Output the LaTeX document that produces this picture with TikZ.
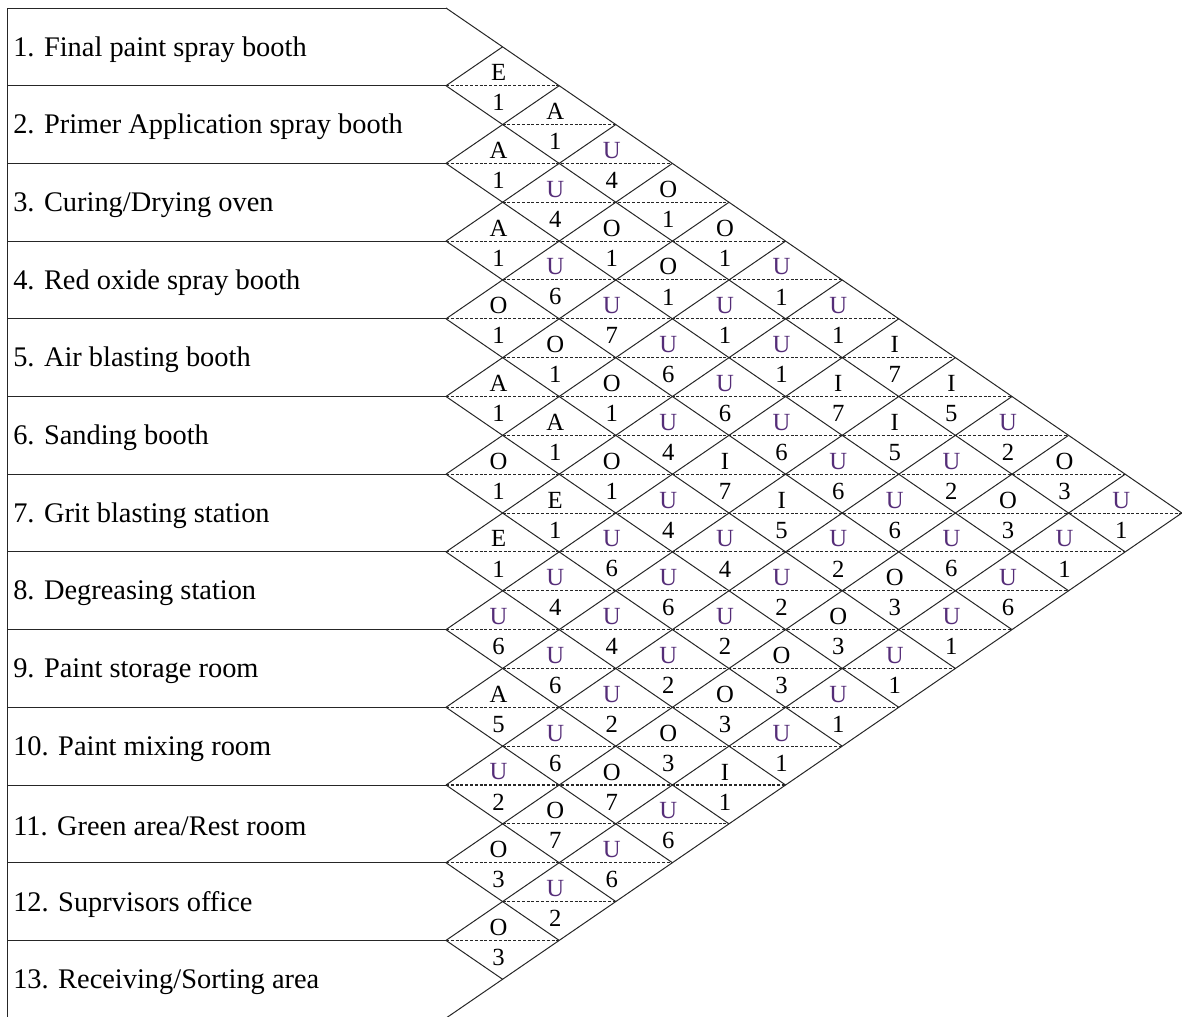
\documentclass[tikz,border=0pt]{standalone}
\usepackage{fontspec}
\setmainfont{Liberation Serif}
\definecolor{upurple}{RGB}{85,45,120}
\begin{document}
\begin{tikzpicture}[x=0.75pt,y=-0.75pt,
  gridline/.style={line width=0.75pt, black!85},
  midline/.style={line width=0.8pt, black!85, dash pattern=on 2.2pt off 1.4pt},
  deptlabel/.style={anchor=west, inner sep=0pt, font=\fontsize{21.3}{24}\selectfont},
  rel/.style={inner sep=0pt, font=\fontsize{18.5}{21}\selectfont}]
\useasboundingbox (0,0) rectangle (1182,1017);
% left table frame
\draw[gridline] (446,8) -- (7,8) -- (7,1017);
\foreach \k in {1,...,12}{
  \draw[gridline] (7,{8+\k*77.7}) -- (446,{8+\k*77.7});
}
% department labels
\foreach \i/\t in {1/{1. Final paint spray booth},2/{2. Primer Application spray booth},3/{3. Curing/Drying oven},4/{4. Red oxide spray booth},5/{5. Air blasting booth},6/{6. Sanding booth},7/{7. Grit blasting station},8/{8. Degreasing station},9/{9. Paint storage room},10/{10. Paint mixing room},11/{11. Green area/Rest room},12/{12. Suprvisors office},13/{13. Receiving/Sorting area}}{
  \node[deptlabel] (dept\i) at (13,{8+(\i-0.5)*77.7+2.5}) {\t};
}
% diagonal grid
\foreach \k in {0,...,12}{
  \draw[gridline] (446,{8+\k*77.7}) -- ({446+(13-\k)*56.6},{8+\k*77.7+(13-\k)*38.85});
}
\foreach \k in {1,...,13}{
  \draw[gridline] (446,{8+\k*77.7}) -- ({446+\k*56.6},{8+\k*77.7-\k*38.85});
}
% dashed mid lines
\foreach \m in {2,...,24}{
  \pgfmathsetmacro\xl{446+mod(\m,2)*56.6}
  \pgfmathsetmacro\xr{446+min(\m,26-\m)*56.6}
  \draw[midline] (\xl,{8+\m*38.85}) -- (\xr,{8+\m*38.85});
}
% relationship values
\def\uu{U}
\foreach \ii/\jj/\lt/\nm in {
 1/2/E/1, 1/3/A/1, 1/4/U/4, 1/5/O/1, 1/6/O/1, 1/7/U/1, 1/8/U/1, 1/9/I/7, 1/10/I/5, 1/11/U/2, 1/12/O/3, 1/13/U/1,
 2/3/A/1, 2/4/U/4, 2/5/O/1, 2/6/O/1, 2/7/U/1, 2/8/U/1, 2/9/I/7, 2/10/I/5, 2/11/U/2, 2/12/O/3, 2/13/U/1,
 3/4/A/1, 3/5/U/6, 3/6/U/7, 3/7/U/6, 3/8/U/6, 3/9/U/6, 3/10/U/6, 3/11/U/6, 3/12/U/6, 3/13/U/6,
 4/5/O/1, 4/6/O/1, 4/7/O/1, 4/8/U/4, 4/9/I/7, 4/10/I/5, 4/11/U/2, 4/12/O/3, 4/13/U/1,
 5/6/A/1, 5/7/A/1, 5/8/O/1, 5/9/U/4, 5/10/U/4, 5/11/U/2, 5/12/O/3, 5/13/U/1,
 6/7/O/1, 6/8/E/1, 6/9/U/6, 6/10/U/6, 6/11/U/2, 6/12/O/3, 6/13/U/1,
 7/8/E/1, 7/9/U/4, 7/10/U/4, 7/11/U/2, 7/12/O/3, 7/13/U/1,
 8/9/U/6, 8/10/U/6, 8/11/U/2, 8/12/O/3, 8/13/I/1,
 9/10/A/5, 9/11/U/6, 9/12/O/7, 9/13/U/6,
 10/11/U/2, 10/12/O/7, 10/13/U/6,
 11/12/O/3, 11/13/U/2,
 12/13/O/3}{
  \pgfmathsetmacro\cx{446+(\jj-\ii)*56.6-4}
  \pgfmathsetmacro\cy{8+(\ii+\jj-1)*38.85}
  \ifx\lt\uu \def\lc{upurple}\else\def\lc{black}\fi
  \node[rel, text=\lc] (L\ii-\jj) at (\cx,{\cy-13}) {\lt};
  \node[rel] (N\ii-\jj) at (\cx,{\cy+17}) {\nm};
}
\end{tikzpicture}
\end{document}
